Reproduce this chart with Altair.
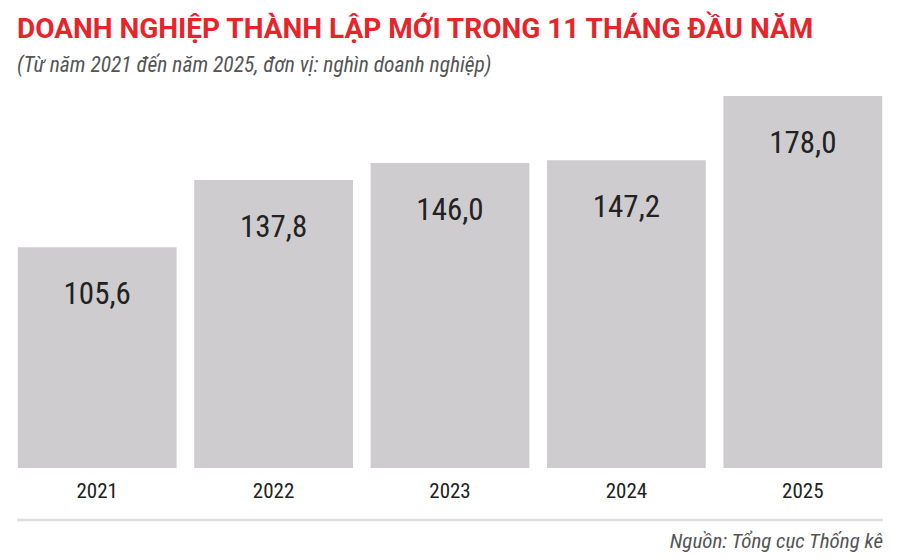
import altair as alt
import pandas as pd

years = ["2021", "2022", "2023", "2024", "2025"]
values = [105.6, 137.8, 146.0, 147.2, 178.0]
labels = ["105,6", "137,8", "146,0", "147,2", "178,0"]
title_text = "DOANH NGHIỆP THÀNH LẬP MỚI TRONG 11 THÁNG ĐẦU NĂM"
subtitle_text = "(Từ năm 2021 đến năm 2025, đơn vị: nghìn doanh nghiệp)"
source_text = "Nguồn: Tổng cục Thống kê"

df = pd.DataFrame({"year": years, "value": values, "label": labels})

NARROW = "'Liberation Sans Narrow', 'Roboto Condensed', Roboto, sans-serif"
BASE = "Roboto, 'Noto Sans', sans-serif"

x = alt.X(
    "year:N",
    sort=years,
    scale=alt.Scale(paddingInner=0.1, paddingOuter=0.05),
    axis=alt.Axis(
        title=None, labelAngle=0, domain=False, ticks=False,
        labelFontSize=21, labelColor="#222222", labelFont=NARROW,
        labelFontWeight="normal", labelPadding=12,
    ),
)
y = alt.Y("value:Q", scale=alt.Scale(domain=[0, 178], nice=False, zero=True), axis=None)

bars = alt.Chart(df).mark_bar(color="#cfccd0").encode(x=x, y=y)
vals = alt.Chart(df).mark_text(
    baseline="middle", dy=48, fontSize=31, color="#222222", font=NARROW
).encode(x=x, y=y, text="label:N")

title = alt.Chart(pd.DataFrame({"t": [title_text]})).mark_text(
    align="left", baseline="middle", fontSize=28, fontWeight="bold",
    color="#e8242b", font=BASE
).encode(x=alt.value(8), y=alt.value(-66), text="t:N")

subtitle = alt.Chart(pd.DataFrame({"t": [subtitle_text]})).mark_text(
    align="left", baseline="middle", fontSize=21.5, fontStyle="italic",
    color="#555555", font=NARROW
).encode(x=alt.value(8), y=alt.value(-30), text="t:N")

source = alt.Chart(pd.DataFrame({"t": [source_text]})).mark_text(
    align="right", baseline="middle", fontSize=21, fontStyle="italic",
    color="#555555", font=NARROW
).encode(x=alt.value(874), y=alt.value(446), text="t:N")

line = alt.Chart(pd.DataFrame({"t": [0]})).mark_rule(
    color="#dedede", strokeWidth=2.5
).encode(x=alt.value(8), x2=alt.value(874), y=alt.value(424))

chart = alt.layer(bars, vals, title, subtitle, source, line).properties(
    width=882, height=372,
    autosize=alt.AutoSizeParams(type="none"),
    padding={"left": 1, "top": 88, "right": 1, "bottom": 90},
).configure(background="#ffffff").configure_view(strokeWidth=0, stroke=None)

chart.save("out.html", embed_options={"renderer": "svg", "actions": False})
